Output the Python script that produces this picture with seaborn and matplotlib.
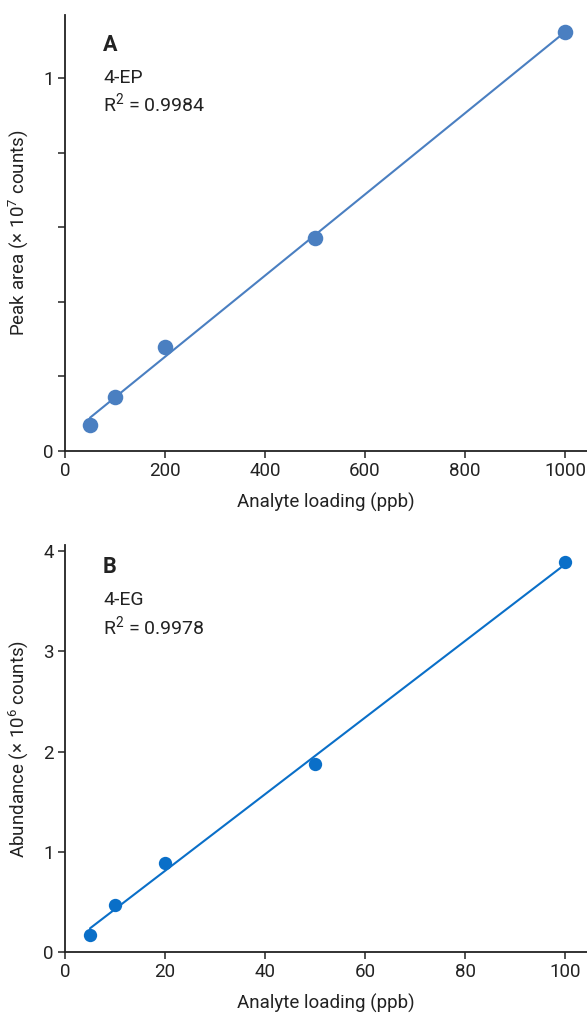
import matplotlib
matplotlib.use("Agg")
import matplotlib.pyplot as plt
import seaborn as sns
import numpy as np
import pandas as pd

# Panel A data
loading_a = [50, 100, 200, 500, 1000]
area_a = [0.07, 0.145, 0.279, 0.571, 1.123]
# Panel B data
loading_b = [5, 10, 20, 50, 100]
abund_b = [0.17, 0.47, 0.89, 1.875, 3.89]

xticks_a = [0, 200, 400, 600, 800, 1000]
yticks_a = [0, 0.2, 0.4, 0.6, 0.8, 1.0]
yticklabels_a = ["0", "", "", "", "", "1"]
xticks_b = [0, 20, 40, 60, 80, 100]
yticks_b = [0, 1, 2, 3, 4]

color_a = "#4a7fc1"
color_b = "#0a6fc8"
ink = "#222222"

sns.set_theme(style="ticks")
plt.rcParams["font.family"] = ["Roboto", "DejaVu Sans"]
plt.rcParams["mathtext.fontset"] = "custom"
plt.rcParams["mathtext.rm"] = "Roboto"

fig = plt.figure(figsize=(5.87, 10.19), dpi=100)
ax1 = fig.add_axes([65/587, (1019-451)/1019, (587-65)/587, (451-15)/1019])
ax2 = fig.add_axes([65/587, (1019-952)/1019, (587-65)/587, (952-545)/1019])

df_a = pd.DataFrame({"x": loading_a, "y": area_a})
df_b = pd.DataFrame({"x": loading_b, "y": abund_b})

sns.regplot(data=df_a, x="x", y="y", ax=ax1, ci=None, color=color_a,
            scatter_kws=dict(s=125, alpha=1, linewidths=0, zorder=3),
            line_kws=dict(lw=1.5))
sns.regplot(data=df_b, x="x", y="y", ax=ax2, ci=None, color=color_b,
            scatter_kws=dict(s=92, alpha=1, linewidths=0, zorder=3),
            line_kws=dict(lw=1.5))

lab_fs = 13.5
ax1.set_xlim(0, 1044)
ax1.set_ylim(0, 1.169)
ax1.set_xticks(xticks_a)
ax1.set_yticks(yticks_a)
ax1.set_yticklabels(yticklabels_a)
ax1.set_xlabel("Analyte loading (ppb)", fontsize=lab_fs, labelpad=9, color=ink)
ax1.set_ylabel("Peak area (× 10$^7$ counts)", fontsize=lab_fs, labelpad=9, color=ink)

ax2.set_xlim(0, 104.4)
ax2.set_ylim(0, 4.06)
ax2.set_xticks(xticks_b)
ax2.set_yticks(yticks_b)
ax2.set_xlabel("Analyte loading (ppb)", fontsize=lab_fs, labelpad=9, color=ink)
ax2.set_ylabel("Abundance (× 10$^6$ counts)", fontsize=lab_fs, labelpad=9, color=ink)

for ax in (ax1, ax2):
    sns.despine(ax=ax)
    for s in ("left", "bottom"):
        ax.spines[s].set_color(ink)
        ax.spines[s].set_linewidth(1.3)
    ax.tick_params(axis="both", direction="out", length=5, width=1.1,
                   color=ink, labelsize=13.5, labelcolor=ink, pad=3)

txt_fs = 14
tx = 0.0728
ax1.text(tx, 0.931, "A", transform=ax1.transAxes, fontsize=15.5, fontweight="bold",
         color=ink, va="center", ha="left")
ax1.text(tx, 0.855, "4-EP", transform=ax1.transAxes, fontsize=txt_fs,
         color=ink, va="center", ha="left")
ax1.text(tx, 0.796, "R$^2$ = 0.9984", transform=ax1.transAxes, fontsize=txt_fs,
         color=ink, va="center", ha="left")
ax2.text(tx, 0.946, "B", transform=ax2.transAxes, fontsize=15.5, fontweight="bold",
         color=ink, va="center", ha="left")
ax2.text(tx, 0.865, "4-EG", transform=ax2.transAxes, fontsize=txt_fs,
         color=ink, va="center", ha="left")
ax2.text(tx, 0.799, "R$^2$ = 0.9978", transform=ax2.transAxes, fontsize=txt_fs,
         color=ink, va="center", ha="left")

fig.savefig("out.png", dpi=100)
